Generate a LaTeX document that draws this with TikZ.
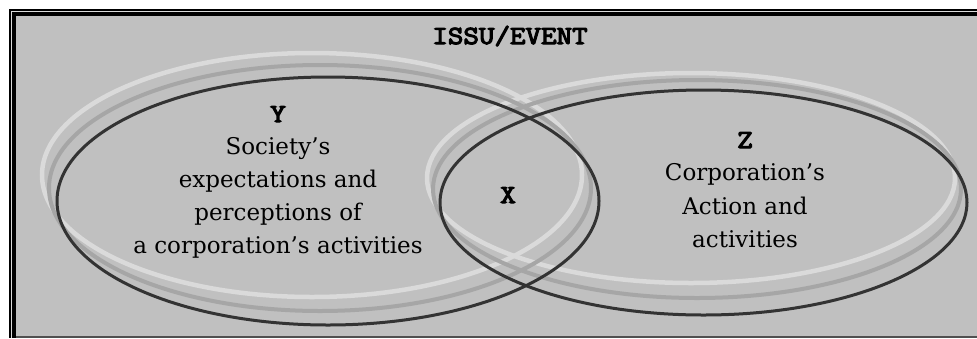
\documentclass[tikz,border=0pt]{standalone}
\usepackage{fontspec}
\newfontfamily\bodyf{DejaVu Serif}
\newfontfamily\labf{Latin Modern Mono}[FakeBold=4.5,FakeStretch=1.16]
\definecolor{bg}{HTML}{C0C0C0}
\definecolor{lightring}{HTML}{DADADA}
\definecolor{midring}{HTML}{A6A6A6}
\definecolor{darkring}{HTML}{333333}
\definecolor{bottomline}{HTML}{505050}
\tikzset{
  lightline/.style={draw=lightring,line width=4.5pt},
  midline/.style={draw=midring,line width=4pt},
  darkline/.style={draw=darkring,line width=3pt},
  bodytext/.style={inner sep=0pt,anchor=base,font=\bodyf\fontsize{23}{27}\selectfont,text=black},
  labeltext/.style={inner sep=0pt,anchor=base,font=\labf\fontsize{26}{30}\selectfont,text=black}
}
\begin{document}
\begin{tikzpicture}[x=1pt,y=-1pt]
\useasboundingbox (0,0) rectangle (977,338);
\fill[white] (0,0) rectangle (977,338);
% frame
\fill[black] (9,9) rectangle (977,338);
\fill[lightring] (11,11) rectangle (977,338);
\fill[black] (12,12) rectangle (977,338);
\fill[bg] (16,16) rectangle (977,336);
\fill[bottomline] (16,336) rectangle (977,338);
% rings
\draw[lightline] (312,175) ellipse [x radius=270pt, y radius=122pt];
\draw[lightline] (691,178) ellipse [x radius=264pt, y radius=105pt];
\draw[midline] (320,188) ellipse [x radius=271pt, y radius=123pt];
\draw[midline] (697,189) ellipse [x radius=264pt, y radius=109pt];
\draw[darkline] (328,201) ellipse [x radius=271pt, y radius=124pt];
\draw[darkline] (703.5,202.5) ellipse [x radius=263.5pt, y radius=112.5pt];
% texts
\node[labeltext] (title) at (510,44) {ISSU/EVENT};
\node[labeltext] (y) at (278,122) {Y};
\node[bodytext] (l1) at (278,154) {Society’s};
\node[bodytext] (l2) at (278,187) {expectations and};
\node[bodytext] (l3) at (278,220) {perceptions of};
\node[bodytext] (l4) at (278,253) {a corporation’s activities};
\node[labeltext] (x) at (508,203) {X};
\node[labeltext] (z) at (745,148) {Z};
\node[bodytext] (r1) at (745,180) {Corporation’s};
\node[bodytext] (r2) at (745,214) {Action and};
\node[bodytext] (r3) at (745,247) {activities};
\end{tikzpicture}
\end{document}
